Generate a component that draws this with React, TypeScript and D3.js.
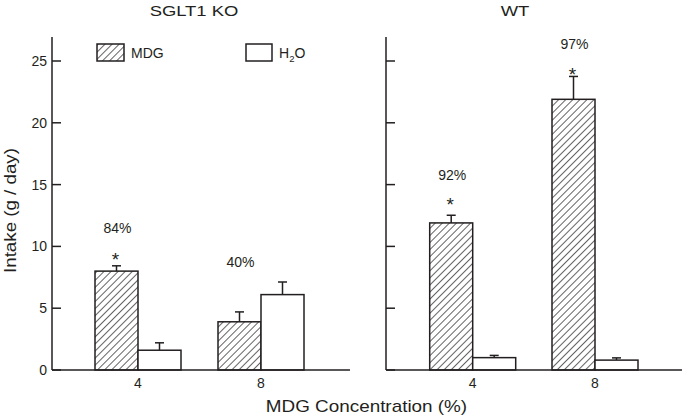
import React from "react";
import * as d3 from "d3";

const categories = ["4", "8"];
const panelTitles = ["SGLT1 KO", "WT"];
const yTicks = [0, 5, 10, 15, 20, 25];

const koMDG = [8.0, 3.9];
const koMDGErr = [0.43, 0.8];
const koH2O = [1.6, 6.1];
const koH2OErr = [0.6, 1.02];
const koPercent = ["84%", "40%"];
const koPercentY = [11.5, 8.7];
const koStar = [true, false];
const koStarY = [9.4, 0];

const wtMDG = [11.9, 21.9];
const wtMDGErr = [0.62, 1.85];
const wtH2O = [1.0, 0.8];
const wtH2OErr = [0.18, 0.18];
const wtPercent = ["92%", "97%"];
const wtPercentY = [15.8, 26.4];
const wtStar = [true, true];
const wtStarY = [13.8, 24.3];

const INK = "#231f20";
const FONT = "Liberation Sans, Arial, Helvetica, sans-serif";

type PanelData = {
  mdg: number[];
  mdgErr: number[];
  h2o: number[];
  h2oErr: number[];
  pct: string[];
  pctY: number[];
  star: boolean[];
  starY: number[];
};

const panelData: PanelData[] = [
  { mdg: koMDG, mdgErr: koMDGErr, h2o: koH2O, h2oErr: koH2OErr, pct: koPercent, pctY: koPercentY, star: koStar, starY: koStarY },
  { mdg: wtMDG, mdgErr: wtMDGErr, h2o: wtH2O, h2oErr: wtH2OErr, pct: wtPercent, pctY: wtPercentY, star: wtStar, starY: wtStarY },
];

const y = d3.scaleLinear().domain([0, 25]).range([370, 61]);
const yTop = 37;

const panels = [
  { x0: 52, x1: 350, ticks: true, range: [138, 261] as [number, number], titleX: 194 },
  { x0: 386, x1: 682, ticks: false, range: [472.7, 595] as [number, number], titleX: 515 },
];

function Panel({ idx }: { idx: number }) {
  const p = panels[idx];
  const d = panelData[idx];
  const x = d3.scalePoint<string>().domain(categories).range(p.range);
  const bw = 43;
  const cap = 4.5;
  const base = y(0);
  const errBar = (cx: number, v: number, e: number, key: string) => (
    <g key={key}>
      <line x1={cx} x2={cx} y1={y(v)} y2={y(v + e)} stroke={INK} strokeWidth={1.5} />
      <line x1={cx - cap} x2={cx + cap} y1={y(v + e)} y2={y(v + e)} stroke={INK} strokeWidth={1.5} />
    </g>
  );
  return (
    <g>
      <text transform={`translate(${p.titleX},16) scale(1.19,1)`} textAnchor="middle" fontSize={15.5} fill={INK} fontFamily={FONT}>
        {panelTitles[idx]}
      </text>
      {categories.map((c, i) => {
        const cx = x(c)!;
        return (
          <g key={c}>
            {errBar(cx - bw / 2, d.mdg[i], d.mdgErr[i], "e1")}
            {errBar(cx + bw / 2, d.h2o[i], d.h2oErr[i], "e2")}
            <rect x={cx - bw} y={y(d.mdg[i])} width={bw} height={base - y(d.mdg[i])} fill="url(#hatch)" stroke={INK} strokeWidth={1.5} />
            <rect x={cx} y={y(d.h2o[i])} width={bw} height={base - y(d.h2o[i])} fill="#fff" stroke={INK} strokeWidth={1.5} />
            <text x={cx - bw / 2 + 1} y={y(d.pctY[i])} dy="0.35em" textAnchor="middle" fontSize={14} fill={INK} fontFamily={FONT}>
              {d.pct[i]}
            </text>
            {d.star[i] && (
              <text x={cx - bw / 2 - 1} y={y(d.starY[i])} dy="0.62em" textAnchor="middle" fontSize={19} fill={INK} fontFamily={FONT}>
                *
              </text>
            )}
            <text x={cx} y={383} dy="0.35em" textAnchor="middle" fontSize={14} fill={INK} fontFamily={FONT}>
              {c}
            </text>
          </g>
        );
      })}
      <line x1={p.x0} x2={p.x0} y1={yTop} y2={base} stroke={INK} strokeWidth={1.5} />
      <line x1={p.x0} x2={p.x1} y1={base} y2={base} stroke={INK} strokeWidth={1.5} />
      {yTicks.map((t) => (
        <g key={t}>
          <line x1={p.x0} x2={p.x0 + 9} y1={y(t)} y2={y(t)} stroke={INK} strokeWidth={1.5} />
          {p.ticks && (
            <text x={p.x0 - 5} y={y(t)} dy="0.35em" textAnchor="end" fontSize={14} fill={INK} fontFamily={FONT}>
              {t}
            </text>
          )}
        </g>
      ))}
    </g>
  );
}

export default function App() {
  return (
    <svg width={682} height={420} style={{ position: "absolute", left: 0, top: 0, background: "#fff" }}>
      <defs>
        <pattern id="hatch" patternUnits="userSpaceOnUse" width={5} height={5} patternTransform="rotate(45)">
          <rect width={5} height={5} fill="#fff" />
          <line x1={0} y1={0} x2={0} y2={5} stroke={INK} strokeWidth={1.4} />
        </pattern>
      </defs>
      <rect width={682} height={420} fill="#fff" />
      <Panel idx={0} />
      <Panel idx={1} />
      {/* legend */}
      <rect x={97} y={44} width={27} height={17} fill="url(#hatch)" stroke={INK} strokeWidth={1.5} />
      <text x={131} y={53} dy="0.35em" fontSize={14} fill={INK} fontFamily={FONT}>MDG</text>
      <rect x={246} y={44} width={26} height={17} fill="#fff" stroke={INK} strokeWidth={1.5} />
      <text x={279} y={53} dy="0.35em" fontSize={14} fill={INK} fontFamily={FONT}>
        H<tspan fontSize={9.5} dy="4">2</tspan>
        <tspan dy="-4">O</tspan>
      </text>
      <text transform={`translate(10,210.5) rotate(-90) scale(1.15,1)`} textAnchor="middle" dy="0.35em" fontSize={16.3} fill={INK} fontFamily={FONT}>
        Intake (g / day)
      </text>
      <text transform={`translate(366.5,406) scale(1.18,1)`} textAnchor="middle" dy="0.35em" fontSize={16} fill={INK} fontFamily={FONT}>
        MDG Concentration (%)
      </text>
    </svg>
  );
}
